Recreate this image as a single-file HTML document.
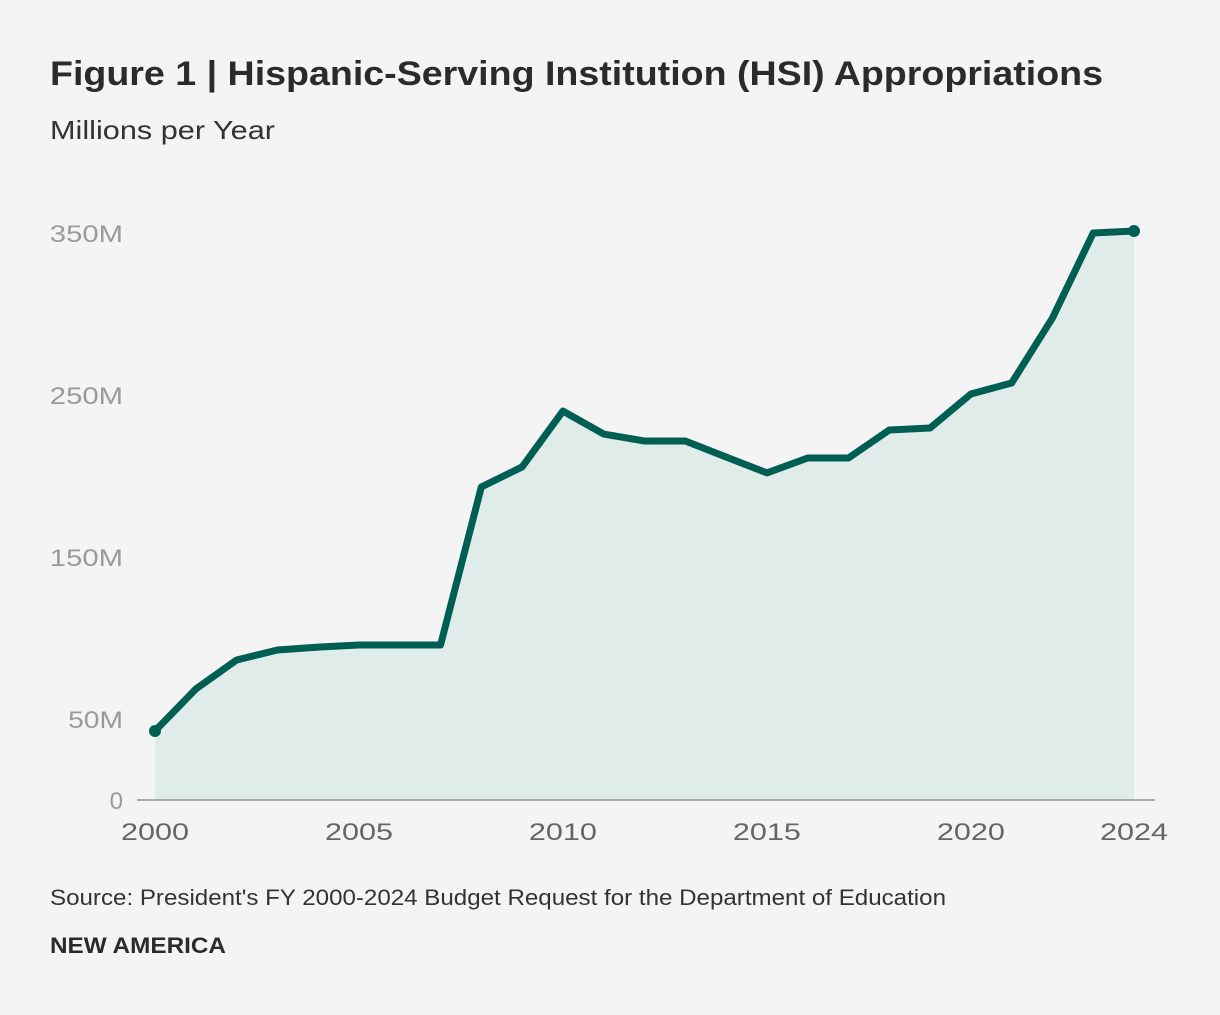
<!DOCTYPE html>
<html><head><meta charset="utf-8"><style>
body{margin:0;background:#f4f4f4;width:1220px;height:1010px;overflow:hidden;font-family:"Liberation Sans",sans-serif;}
</style></head><body>
<svg width="1220" height="1010">
<rect width="1220" height="1010" fill="#f4f4f4"/>
<text x="50" y="85" font-size="34" font-weight="bold" fill="#2b2b2b" textLength="1053" lengthAdjust="spacingAndGlyphs">Figure 1 | Hispanic-Serving Institution (HSI) Appropriations</text>
<text x="50" y="139" font-size="26" fill="#333" textLength="225" lengthAdjust="spacingAndGlyphs">Millions per Year</text>
<g id="yticks"></g><g id="xticks"></g>
<path id="area" fill="#e0ece9"/>
<line x1="137" y1="800" x2="1155" y2="800" stroke="#aaa" stroke-width="2"/>
<path id="line" fill="none" stroke="#005f52" stroke-width="7" stroke-linejoin="round"/>
<g id="dots"></g>
<text x="50" y="905" font-size="22" fill="#333" textLength="896" lengthAdjust="spacingAndGlyphs">Source: President's FY 2000-2024 Budget Request for the Department of Education</text>
<text x="50" y="953" font-size="22" font-weight="bold" fill="#2b2b2b" textLength="176" lengthAdjust="spacingAndGlyphs">NEW AMERICA</text>
</svg>
<script>
const years=[2000,2001,2002,2003,2004,2005,2006,2007,2008,2009,2010,2011,2012,2013,2014,2015,2016,2017,2018,2019,2020,2021,2022,2023,2024];
const values=[42.6,68.5,86.4,92.6,94.4,95.7,95.7,95.7,193.2,205.6,240.1,225.9,221.6,221.6,211.7,201.9,211.1,211.1,228.4,229.6,250.6,257.4,297.5,350,351.2];
const yTicks=[0,50,150,250,350];
const yTickLabels=["0","50M","150M","250M","350M"];
const xTicks=[2000,2005,2010,2015,2020,2024];
const NS="http://www.w3.org/2000/svg";
const x=v=>155+(v-2000)*(1134-155)/24;
const y=v=>800-v*1.62;
const yg=document.getElementById('yticks');
yTicks.forEach((t,i)=>{const e=document.createElementNS(NS,'text');
e.setAttribute('x',123);e.setAttribute('y',y(t)+9);e.setAttribute('text-anchor','end');e.setAttribute('font-size','24');e.setAttribute('fill','#9a9a9a');
const L=yTickLabels[i].length;if(L>1){e.setAttribute('textLength',L*18.3);e.setAttribute('lengthAdjust','spacingAndGlyphs');}


e.textContent=yTickLabels[i];yg.appendChild(e);});
const xg=document.getElementById('xticks');
xTicks.forEach(t=>{const e=document.createElementNS(NS,'text');
e.setAttribute('x',x(t)-34);e.setAttribute('y',840);e.setAttribute('font-size','24');e.setAttribute('fill','#666');
e.setAttribute('textLength',68);e.setAttribute('lengthAdjust','spacingAndGlyphs');


e.textContent=t;xg.appendChild(e);});
let d=years.map((yr,i)=>(i?'L':'M')+x(yr)+','+y(values[i])).join(' ');
document.getElementById('line').setAttribute('d',d);
document.getElementById('area').setAttribute('d',d+' L'+x(years[years.length-1])+',800 L'+x(years[0])+',800 Z');
const dg=document.getElementById('dots');
[0,years.length-1].forEach(i=>{const c=document.createElementNS(NS,'circle');
c.setAttribute('cx',x(years[i]));c.setAttribute('cy',y(values[i]));c.setAttribute('r',6);c.setAttribute('fill','#005f52');


dg.appendChild(c);});
</script>
</body></html>
